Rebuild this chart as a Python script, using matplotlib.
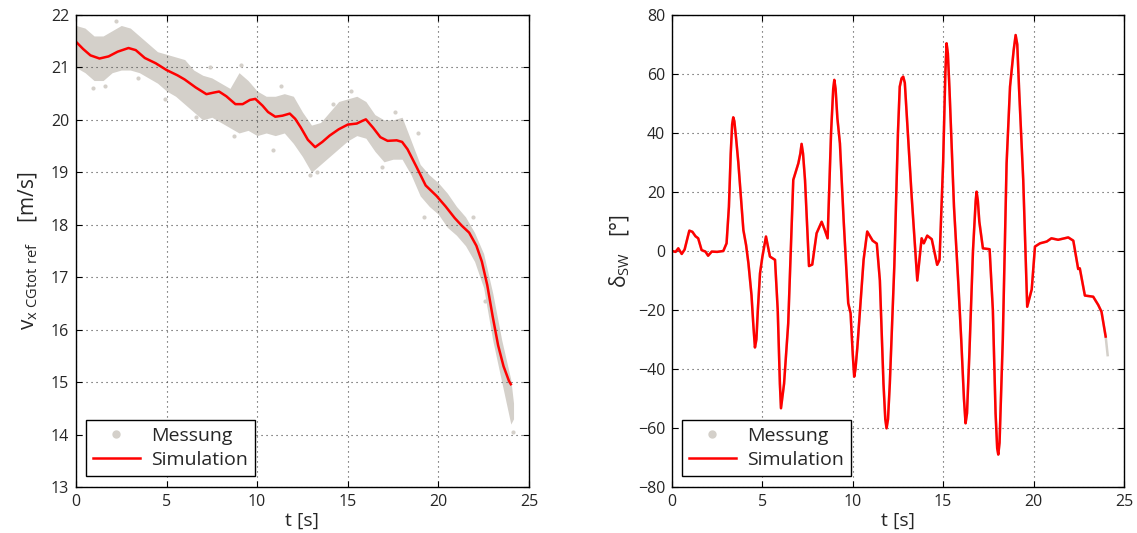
import numpy as np
import matplotlib.pyplot as plt
from matplotlib.lines import Line2D

plt.rcParams['font.family'] = ['Open Sans', 'DejaVu Sans']
plt.rcParams['mathtext.fontset'] = 'custom'
plt.rcParams['mathtext.rm'] = 'Open Sans'
plt.rcParams['mathtext.it'] = 'Open Sans'

# --- left: velocity ---------------------------------------------------------
sim_t = [0.0, 0.4, 0.8, 1.3, 1.8, 2.3, 2.9, 3.3, 3.8, 4.4, 5.0, 5.6, 6.0, 6.6,
         7.2, 7.6, 7.9, 8.3, 8.8, 9.2, 9.6, 9.9, 10.3, 10.6, 11.0, 11.4, 11.8,
         12.1, 12.4, 12.8, 13.2, 13.6, 14.0, 14.5, 15.0, 15.5, 15.8, 16.0, 16.4,
         16.8, 17.2, 17.7, 18.0, 18.3, 18.8, 19.3, 19.9, 20.4, 20.9, 21.3, 21.7,
         22.1, 22.4, 22.7, 23.0, 23.3, 23.6, 23.9, 24.0]
sim_v = [21.49, 21.35, 21.23, 21.17, 21.21, 21.30, 21.37, 21.33, 21.18, 21.08,
         20.95, 20.85, 20.77, 20.62, 20.49, 20.52, 20.54, 20.45, 20.30, 20.30,
         20.38, 20.40, 20.27, 20.15, 20.06, 20.08, 20.12, 20.02, 19.86, 19.62,
         19.48, 19.58, 19.70, 19.82, 19.91, 19.93, 19.98, 20.01, 19.85, 19.67,
         19.60, 19.61, 19.58, 19.44, 19.10, 18.75, 18.55, 18.35, 18.13, 17.98,
         17.85, 17.60, 17.30, 16.85, 16.25, 15.70, 15.30, 15.02, 14.96]

# envelope of the measured point cloud
meas_t = [0.0, 0.5, 1.0, 1.5, 2.0, 2.5, 3.0, 3.5, 4.0, 4.5, 5.0, 5.5, 6.0, 6.5,
          7.0, 7.5, 8.0, 8.5, 9.0, 9.5, 10.0, 10.5, 11.0, 11.5, 12.0, 12.5,
          13.0, 13.5, 14.0, 14.5, 15.0, 15.5, 16.0, 16.5, 17.0, 17.5, 18.0,
          18.5, 19.0, 19.5, 20.0, 20.5, 21.0, 21.5, 22.0, 22.5, 23.0, 23.5,
          24.0, 24.15]
meas_hi = [21.8, 21.75, 21.6, 21.6, 21.7, 21.8, 21.75, 21.6, 21.45, 21.3,
           21.25, 21.2, 21.15, 20.95, 20.85, 20.8, 20.7, 20.6, 20.9, 20.75,
           20.55, 20.45, 20.45, 20.5, 20.45, 20.15, 19.9, 19.95, 20.15, 20.35,
           20.4, 20.45, 20.35, 20.1, 20.0, 20.0, 20.05, 19.6, 19.15, 18.95,
           18.8, 18.6, 18.35, 18.15, 17.85, 17.45, 16.7, 15.8, 15.05, 14.6]
meas_lo = [21.0, 20.9, 20.75, 20.75, 20.9, 20.95, 20.95, 20.9, 20.8, 20.7,
           20.55, 20.45, 20.3, 20.15, 20.0, 20.05, 19.95, 19.85, 19.75, 19.8,
           19.7, 19.75, 19.7, 19.75, 19.55, 19.3, 19.0, 19.15, 19.3, 19.45,
           19.6, 19.7, 19.65, 19.4, 19.2, 19.25, 19.25, 18.95, 18.55, 18.35,
           18.2, 17.95, 17.8, 17.6, 17.3, 16.8, 15.8, 15.0, 14.2, 14.3]
out_t = [0.95, 1.6, 2.2, 3.4, 4.9, 6.6, 7.4, 8.7, 9.1, 10.9, 11.3, 12.9, 13.3,
         14.2, 15.2, 16.9, 17.6, 18.9, 19.2, 20.6, 21.9, 22.6, 24.1]
out_v = [20.6, 20.65, 21.88, 20.8, 20.4, 20.05, 21.0, 19.7, 21.05, 19.43,
         20.65, 18.95, 19.0, 20.3, 20.55, 19.1, 20.15, 19.75, 18.15, 18.45,
         18.15, 16.55, 14.05]

# --- right: steering angle --------------------------------------------------
sw_t = [0.0, 0.2, 0.35, 0.54, 0.7, 0.96, 1.13, 1.3, 1.45, 1.64, 1.85, 2.0, 2.2,
        2.5, 2.84, 3.02, 3.15, 3.25, 3.33, 3.39, 3.45, 3.55, 3.67, 3.95, 4.1,
        4.23, 4.4, 4.5, 4.59, 4.67, 4.75, 4.87, 5.0, 5.2, 5.42, 5.7, 5.85,
        5.97, 6.03, 6.1, 6.2, 6.43, 6.71, 6.99, 7.1, 7.17, 7.25, 7.36, 7.58,
        7.76, 8.0, 8.28, 8.46, 8.61, 8.8, 8.92, 8.98, 9.05, 9.15, 9.29, 9.5,
        9.75, 9.88, 10.0, 10.08, 10.15, 10.25, 10.4, 10.6, 10.8, 11.1, 11.33,
        11.5, 11.7, 11.8, 11.87, 11.95, 12.05, 12.3, 12.5, 12.6, 12.7, 12.79,
        12.88, 12.95, 13.1, 13.26, 13.57, 13.81, 13.93, 14.12, 14.37, 14.67,
        14.8, 15.0, 15.12, 15.19, 15.26, 15.35, 15.6, 15.84, 16.0, 16.15,
        16.24, 16.32, 16.45, 16.65, 16.8, 16.85, 16.92, 17.0, 17.2, 17.57,
        17.75, 17.9, 17.99, 18.05, 18.12, 18.3, 18.51, 18.7, 18.9, 19.01,
        19.1, 19.2, 19.43, 19.65, 19.9, 20.08, 20.36, 20.73, 20.99, 21.36,
        21.92, 22.2, 22.47, 22.56, 22.84, 23.3, 23.58, 23.76, 23.99]
sw_deg = [0.0, -0.3, 0.9, -1.0, 0.5, 6.9, 6.5, 5.0, 4.3, 0.3, -0.2, -1.6, -0.2,
          -0.3, 0.0, 2.6, 15, 33, 43, 45.3, 44, 38, 30, 7.1, 2, -4.2, -15,
          -25, -32.7, -30, -20, -7.6, -2, 4.9, -1.9, -3, -20, -45, -53.3, -50,
          -45, -24.6, 24.1, 29.7, 33, 36.3, 33, 24, -5.1, -4.6, 6, 9.9, 7,
          4.3, 40, 55, 58, 55, 45, 36.5, 10, -17.7, -21.1, -35, -42.6, -40,
          -33, -20, -3, 6.6, 3.5, 2.5, -10, -45, -57, -60.1, -57, -45, -5, 40,
          55.7, 58.5, 59.1, 57, 50, 35, 18.4, -10, 4.3, 2.6, 5.2, 4, -4.7, -3,
          30, 60, 70.4, 67, 55, 15, -11, -30, -50, -58.4, -55, -35, 0, 17,
          20.1, 17, 10, 0.9, 0.6, -20, -55, -66.9, -69, -65, -30, 29.7, 55.7,
          68, 73.2, 70, 55, 24.1, -18.9, -13, 1.5, 2.6, 3.2, 4.3, 3.8, 4.6,
          3.5, -6.1, -5.9, -15.1, -15.5, -18.3, -20.6, -29]
sw_meas_t = sw_t + [24.1]
sw_meas_deg = sw_deg + [-35.3]

gray = '#d4d0ca'
red = '#ff0000'
tick_col = '#262626'

fig = plt.figure(figsize=(11.37, 5.33), dpi=100)
ax1 = fig.add_axes([0.0668, 0.0863, 0.3984, 0.8856])
ax2 = fig.add_axes([0.591, 0.0863, 0.3975, 0.8856])


def style(ax):
    ax.set_xlim(0, 25)
    ax.set_xticks([0, 5, 10, 15, 20, 25])
    ax.grid(True, color='#444444', linestyle=(0, (1, 3.5)), linewidth=0.8)
    ax.tick_params(direction='in', top=True, right=True, length=4,
                   labelsize=11.5, colors='black', labelcolor=tick_col, pad=5)
    for s in ax.spines.values():
        s.set_linewidth(1.0)
    ax.set_xlabel('t [s]', fontsize=14, color=tick_col, labelpad=1)
    handles = [Line2D([], [], marker='o', ls='none', color=gray, markersize=5),
               Line2D([], [], color=red, lw=1.8)]
    leg = ax.legend(handles, ['Messung', 'Simulation'], loc='lower left',
                    bbox_to_anchor=(0.018, 0.02), fontsize=14, fancybox=False,
                    framealpha=1, edgecolor='black', borderpad=0.35,
                    handlelength=2.4, handletextpad=0.6, labelspacing=0.3,
                    borderaxespad=0.1)
    leg.get_frame().set_linewidth(1.0)
    for t in leg.get_texts():
        t.set_color(tick_col)


ax1.fill_between(meas_t, meas_lo, meas_hi, color=gray, lw=0)
ax1.plot(out_t, out_v, 'o', color=gray, markersize=3, mec='none')
ax1.plot(sim_t, sim_v, color=red, lw=1.8, solid_joinstyle='round')
ax1.set_ylim(13, 22)
style(ax1)
ax1.set_ylabel(r'$\mathregular{v_{x\ CGtot\ ref}}$    [m/s]', fontsize=15,
               color=tick_col, labelpad=8)

ax2.plot(sw_meas_t, sw_meas_deg, color=gray, lw=1.8)
ax2.plot(sw_t, sw_deg, color=red, lw=1.8, solid_joinstyle='round')
ax2.set_ylim(-80, 80)
ax2.set_yticks(np.arange(-80, 81, 20))
style(ax2)
ax2.set_ylabel(r'$\mathregular{\delta_{SW}}$   [°]', fontsize=15,
               color=tick_col, labelpad=4)

fig.savefig('out.png', dpi=100)
